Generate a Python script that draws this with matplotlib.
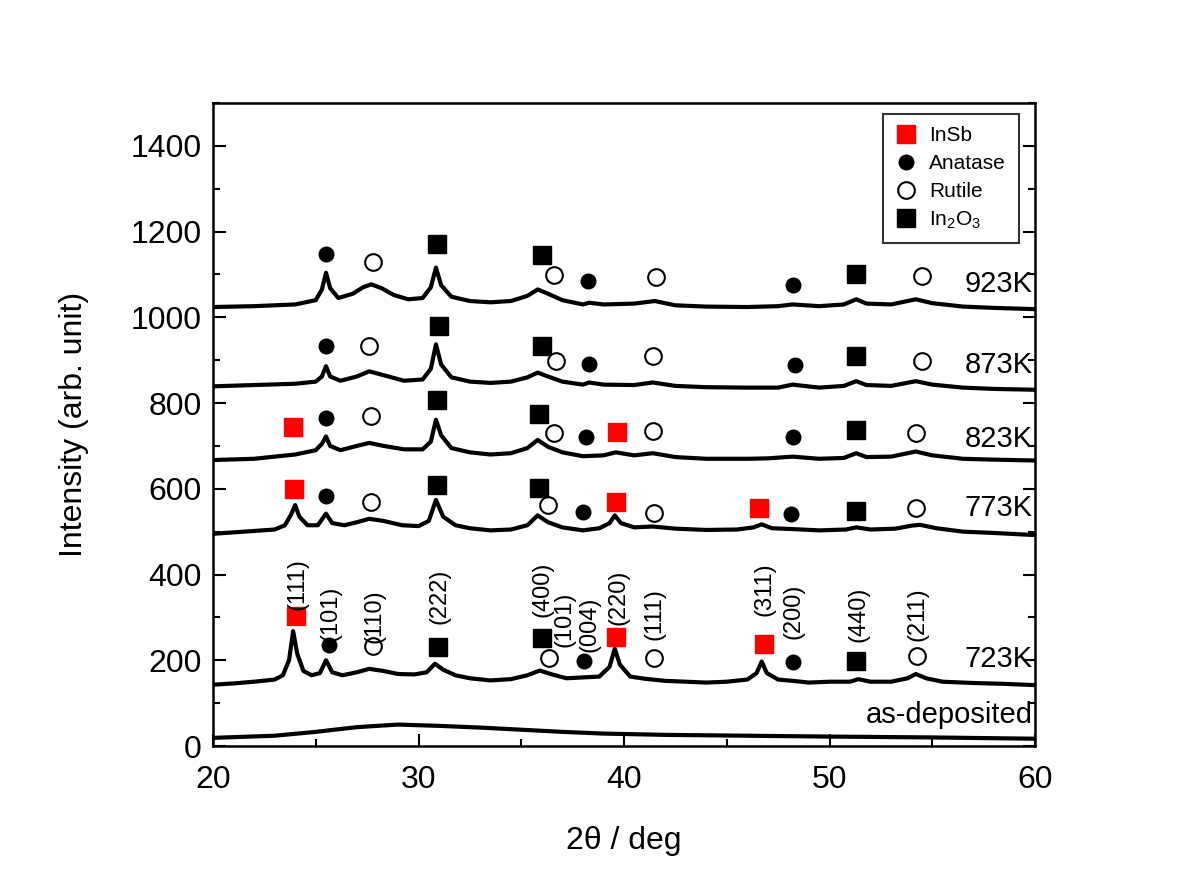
import matplotlib
matplotlib.use("Agg")
import matplotlib.pyplot as plt
from matplotlib.lines import Line2D

plt.rcParams['font.family'] = ['Liberation Sans', 'DejaVu Sans']
plt.rcParams['mathtext.fontset'] = 'custom'
plt.rcParams['mathtext.rm'] = 'Liberation Sans'
plt.rcParams['mathtext.it'] = 'Liberation Sans:italic'

# ---------------- data ----------------
asdep_x = [20, 23, 25, 27, 29, 31, 33, 35, 37, 39, 42, 46, 50, 55, 60]
asdep_y = [19, 24, 33, 44, 50, 47, 43, 38, 33, 29, 26, 24, 22, 20, 17]

k723_x = [20, 21, 22, 23, 23.4, 23.7, 23.9, 24.1, 24.4, 24.8, 25.2, 25.5, 25.8, 26.3, 27.0,
          27.6, 28.3, 29.0, 29.8, 30.4, 30.8, 31.2, 31.8, 32.5, 33.5, 34.5, 35.3, 35.9, 36.5,
          37.2, 38.0, 38.8, 39.3, 39.55, 39.8, 40.3, 41.0, 42, 43, 44, 45, 46, 46.45, 46.7,
          46.95, 47.5, 48.2, 49, 50, 51, 51.4, 52, 53, 53.8, 54.2, 54.7, 55.5, 57, 58.5, 60]
k723_y = [143, 146, 150, 155, 165, 200, 268, 215, 175, 165, 170, 200, 172, 165, 172,
          180, 175, 168, 167, 172, 192, 178, 165, 158, 153, 156, 165, 176, 167,
          158, 160, 162, 185, 227, 190, 162, 157, 152, 150, 148, 150, 155, 170, 197,
          170, 155, 152, 148, 150, 150, 156, 150, 150, 158, 168, 158, 150, 147, 145, 142]

k773_x = [20, 21.5, 23, 23.5, 23.8, 24.0, 24.2, 24.6, 25.1, 25.5, 25.8, 26.4, 27.0, 27.6,
          28.3, 29.2, 30.0, 30.5, 30.85, 31.2, 31.8, 32.5, 33.5, 34.5, 35.3, 35.8, 36.3, 37,
          38, 38.8, 39.3, 39.55, 39.85, 40.5, 41.4, 42.5, 44, 45.5, 46.3, 46.7, 47.2, 48.2,
          49.5, 50.8, 51.3, 52, 53.2, 54, 54.4, 55.2, 56.5, 58, 60]
k773_y = [495, 500, 505, 515, 540, 562, 535, 515, 515, 542, 520, 515, 522, 530,
          525, 515, 513, 525, 574, 535, 515, 508, 503, 505, 515, 538, 522, 510,
          503, 508, 520, 538, 520, 510, 512, 507, 504, 505, 510, 517, 508, 506,
          503, 505, 510, 505, 507, 514, 516, 508, 500, 497, 492]

k823_x = [20, 22, 23, 24, 25.0, 25.3, 25.5, 25.7, 26.2, 27.0, 27.6, 28.3, 29.3, 30.2, 30.6,
          30.85, 31.1, 31.6, 32.5, 33.5, 34.5, 35.3, 35.8, 36.3, 37.0, 38.0, 39, 39.6, 40.5,
          41.4, 42.5, 44, 46, 47, 48.2, 49.5, 50.7, 51.3, 51.8, 53, 54.2, 55, 56.5, 58, 60]
k823_y = [667, 670, 675, 680, 690, 705, 722, 700, 690, 700, 707, 700, 692, 692, 710,
          761, 725, 695, 685, 680, 683, 695, 714, 698, 685, 676, 678, 685, 678,
          683, 674, 670, 670, 671, 675, 670, 672, 683, 674, 675, 687, 678, 670, 668, 666]

k873_x = [20, 22, 24, 25.0, 25.3, 25.5, 25.7, 26.2, 27.0, 27.6, 28.3, 29.3, 30.2, 30.6,
          30.85, 31.1, 31.6, 32.5, 33.5, 34.5, 35.3, 35.8, 36.3, 37.0, 38.0, 38.3, 39, 40.5,
          41.4, 42.5, 44, 46, 47.5, 48.2, 49.5, 50.7, 51.3, 51.8, 53, 54.2, 55, 56.5, 58, 60]
k873_y = [839, 842, 845, 850, 862, 886, 862, 852, 862, 874, 865, 852, 855, 880,
          937, 890, 860, 850, 847, 850, 860, 871, 862, 850, 843, 848, 843, 842,
          848, 840, 837, 836, 836, 843, 836, 840, 851, 842, 840, 851, 843, 836, 833, 831]

k923_x = [20, 22, 24, 25.0, 25.3, 25.5, 25.7, 26.1, 26.8, 27.3, 27.7, 28.2, 28.8, 29.5,
          30.2, 30.6, 30.85, 31.1, 31.6, 32.5, 33.5, 34.5, 35.3, 35.8, 36.3, 37.0, 38.0,
          38.3, 39, 40.5, 41.5, 42.5, 44, 46, 47.5, 48.2, 49.5, 50.7, 51.3, 51.8, 53, 54.2,
          55, 56.5, 58, 60]
k923_y = [1024, 1026, 1030, 1040, 1065, 1104, 1068, 1045, 1055, 1070, 1077, 1068, 1052, 1042,
          1045, 1070, 1116, 1075, 1048, 1038, 1035, 1038, 1050, 1065, 1055, 1040, 1030,
          1034, 1030, 1032, 1038, 1028, 1025, 1024, 1026, 1030, 1026, 1030, 1042, 1032, 1030, 1042,
          1033, 1025, 1022, 1019]

# phase markers (x, y)
insb_x = [24.05, 39.6, 46.8, 23.95, 39.6, 46.55, 23.9, 39.65]
insb_y = [304, 255, 239, 600, 569, 555, 745, 733]

anatase_x = [25.65, 38.05, 48.2,   25.5, 38.0, 48.15,   25.5, 38.15, 48.2,
             25.5, 38.3, 48.3,   25.5, 38.25, 48.2]
anatase_y = [236, 199, 197,   583, 546, 541,   766, 721, 721,
             932, 890, 888,   1147, 1084, 1075]

rutile_x = [27.8, 36.35, 41.45, 54.25,   27.7, 36.3, 41.45, 54.2,   27.7, 36.6, 41.4, 54.2,
            27.6, 36.7, 41.4, 54.5,   27.8, 36.6, 41.55, 54.5]
rutile_y = [234, 206, 206, 211,   569, 562, 543, 555,   770, 731, 735, 731,
            932, 899, 909, 897,   1129, 1098, 1094, 1096]

in2o3_x = [30.95, 36.0, 51.3,   30.9, 35.85, 51.3,   30.9, 35.85, 51.3,
           31.0, 36.0, 51.3,   30.9, 36.0, 51.3]
in2o3_y = [230, 251, 199,   609, 602, 548,   808, 775, 738,
           979, 934, 909,   1171, 1145, 1101]

hkl_labels = ["(111)", "(101)", "(110)", "(222)", "(400)", "(101)", "(004)",
              "(220)", "(111)", "(311)", "(200)", "(440)", "(211)"]
hkl_x = [24.1, 25.7, 27.85, 31.0, 36.05, 37.1, 38.3, 39.75, 41.5, 46.85, 48.25, 51.4, 54.3]
hkl_y = [378, 310, 303, 350, 366, 296, 284, 348, 307, 366, 314, 307, 307]

temp_labels = ["as-deposited", "723K", "773K", "823K", "873K", "923K"]
temp_y = [72, 204, 555, 717, 888, 1077]

# ---------------- figure ----------------
fig = plt.figure(figsize=(12, 8.93), dpi=100)
ax = fig.add_axes([0.1775, 0.1646, 0.685, 0.7201])

traces = [(asdep_x, asdep_y), (k723_x, k723_y), (k773_x, k773_y),
          (k823_x, k823_y), (k873_x, k873_y), (k923_x, k923_y)]
for tx, ty in traces:
    ax.plot(tx, ty, color='black', lw=3.0, solid_joinstyle='round')

ax.plot(insb_x, insb_y, ls='none', marker='s', ms=13, color='#ff0000', mec='#ff0000')
ax.plot(anatase_x, anatase_y, ls='none', marker='o', ms=10.5, color='black')
ax.plot(rutile_x, rutile_y, ls='none', marker='o', ms=12, mfc='white', mec='black', mew=1.5)
ax.plot(in2o3_x, in2o3_y, ls='none', marker='s', ms=13.5, color='black')

for lab, hx, hy in zip(hkl_labels, hkl_x, hkl_y):
    ax.text(hx, hy, lab, rotation=90, ha='center', va='center', fontsize=17)

for lab, ty in zip(temp_labels, temp_y):
    ax.text(59.9, ty, lab, ha='right', va='center', fontsize=21)

ax.set_xlim(20, 60)
ax.set_ylim(0, 1500)
ax.set_xticks([20, 30, 40, 50, 60])
ax.set_xticks([25, 35, 45, 55], minor=True)
ax.set_yticks(range(0, 1401, 200))
ax.set_yticks(range(100, 1501, 200), minor=True)
ax.tick_params(which='both', direction='in', right=True, top=False, width=1.5)
ax.tick_params(which='major', length=9, labelsize=23)
ax.tick_params(axis='x', which='major', pad=14)
ax.tick_params(axis='y', which='major', pad=8)
ax.tick_params(which='minor', length=5)
for s in ax.spines.values():
    s.set_linewidth(1.8)

ax.set_xlabel("2θ / deg", fontsize=23, labelpad=22)
ax.set_ylabel("Intensity (arb. unit)", fontsize=23, labelpad=30)

handles = [
    Line2D([], [], ls='none', marker='s', ms=13, color='#ff0000'),
    Line2D([], [], ls='none', marker='o', ms=10.5, color='black'),
    Line2D([], [], ls='none', marker='o', ms=12, mfc='white', mec='black', mew=1.5),
    Line2D([], [], ls='none', marker='s', ms=13, color='black'),
]
leg = ax.legend(handles, ["InSb", "Anatase", "Rutile", "In$_2$O$_3$"],
                loc='upper right', bbox_to_anchor=(0.980, 0.983), fontsize=15,
                frameon=True, fancybox=False, edgecolor='black', handlelength=1.0,
                handletextpad=0.6, labelspacing=0.42, borderpad=0.6, borderaxespad=0.0)
leg.get_frame().set_linewidth(1.5)

fig.savefig("out.png", dpi=100)
